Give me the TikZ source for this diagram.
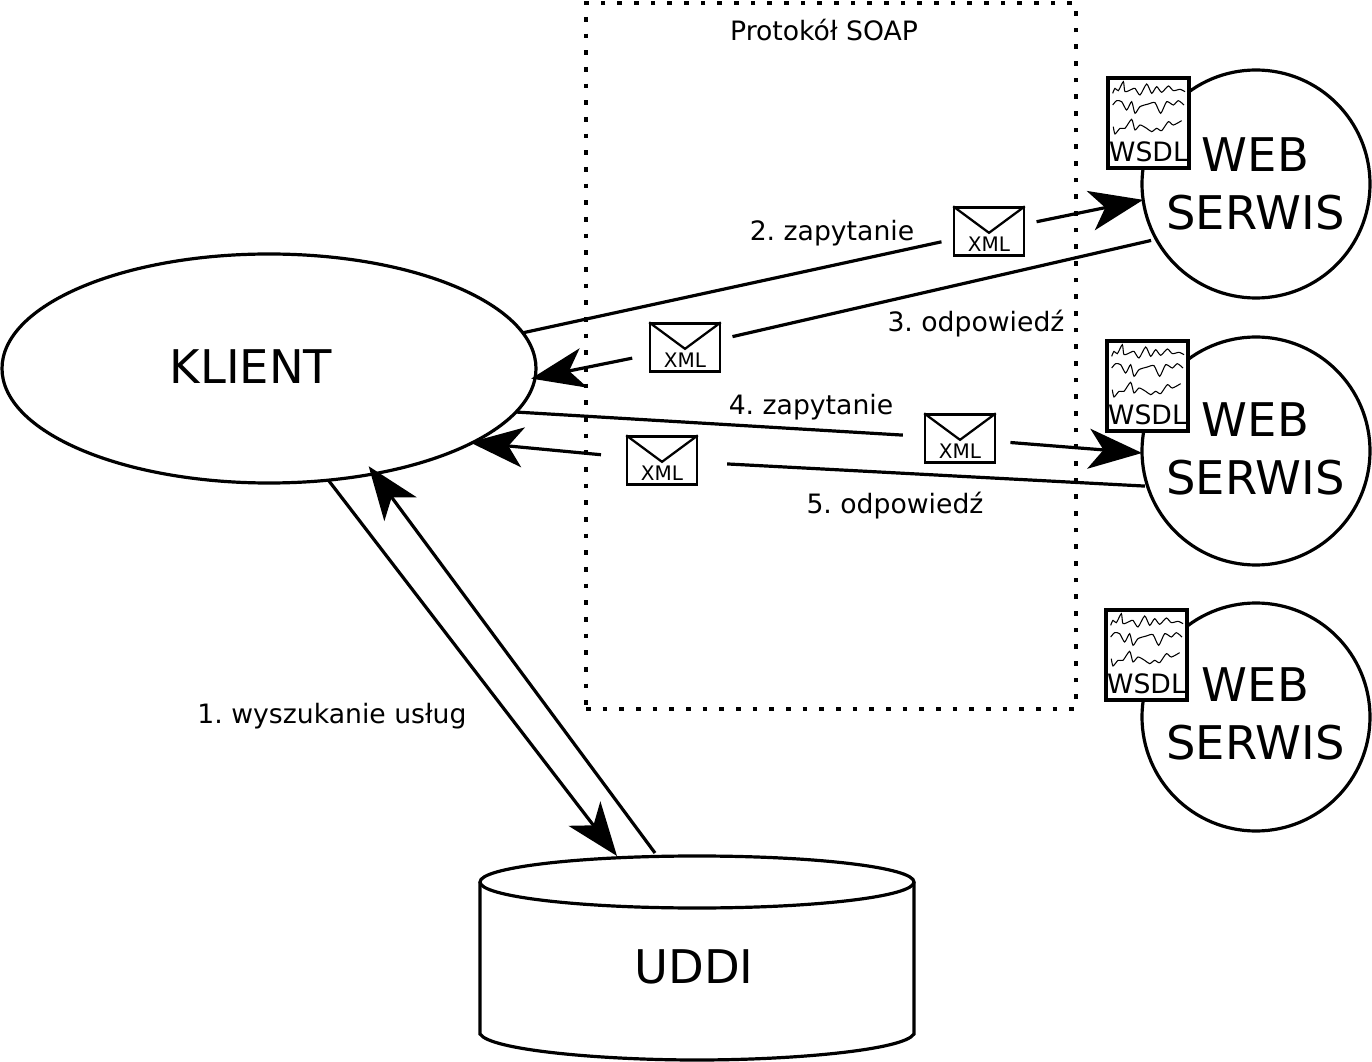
\documentclass[tikz,border=0pt]{standalone}
\usepackage{fontspec}
\setmainfont{DejaVu Sans}
\usetikzlibrary{arrows.meta,shapes.geometric}
\frenchspacing
\begin{document}
\begin{tikzpicture}[x=.75pt,y=-.75pt,line width=2.4pt,
	big text/.style = {inner sep=0pt,font=\fontsize{34.8}{43.5}\selectfont,align=center},
	web node/.style = {draw,circle,fill=white,inner sep=0pt,outer sep=0pt,minimum size=171pt},
	doc node/.style = {draw,fill=white,line width=3pt,inner sep=0pt,minimum width=61pt,minimum height=67pt},
	mail node/.style = {draw,line width=1.7pt,inner sep=0pt,minimum width=52pt,minimum height=36pt},
	note/.style = {inner sep=0pt,font=\fontsize{20}{24}\selectfont},
	link/.style = {-{Stealth[length=40pt,width=30pt,inset=11pt]}}]
	\useasboundingbox (0,0) rectangle (1372,1062);

	% protokol
	\node[draw,line width=3pt,dash pattern=on 3.4pt off 9.1pt,inner sep=0pt,minimum width=367.5pt,minimum height=529.5pt] (soap) at (831,356) {};
	\node[note] (soaplabel) at (824,30) {Protokół SOAP};

	\node[draw,ellipse,inner sep=0pt,outer sep=0pt,minimum width=400.5pt,minimum height=171.75pt] (klient) at (269,368.5) {};
	\node[big text] (klientlabel) at (251,367) {KLIENT};

	\foreach \n/\y/\ty in {1/184/184,2/451/449,3/717/714}{
		\node[web node] (web\n) at (1256,\y) {};
		\node[big text] (weblabel\n) at (1255.5,\ty) {WEB\\SERWIS};
	}

	% dokumenty WSDL
	\foreach \n/\dx/\dy in {1/0/0,2/-1/263,3/-2/532}{
		\node[doc node] (doc\n) at (1148.5+\dx,123+\dy) {};
		\node[font=\fontsize{20}{24}\selectfont,inner sep=0pt,anchor=south] (wsdl\n) at ([yshift=5pt]doc\n.south) {WSDL};
		\begin{scope}[shift={(1090+\dx,60+\dy)},x=.25pt,y=-.25pt,line width=.8pt]
			\draw plot[smooth,tension=.4] coordinates {(68,100) (75,85) (85,92) (100,65) (105,95) (125,88) (135,85) (150,105) (170,72) (185,100) (200,80) (215,97) (235,78) (250,92) (270,88) (285,95)};
			\draw plot[smooth,tension=.4] coordinates {(68,135) (80,122) (95,125) (110,150) (125,125) (135,160) (150,140) (175,132) (195,128) (212,160) (230,125) (250,135) (265,122) (282,135)};
			\draw plot[smooth,tension=.4] coordinates {(70,200) (75,222) (90,205) (105,205) (125,178) (135,210) (150,195) (170,205) (185,215) (200,205) (215,212) (235,185) (250,195) (275,182)};
		\end{scope}
	}

	% koperty XML
	\foreach \n/\x/\y in {2/989/231.5,3/685/347.5,4/960/438.5,5/662/460.5}{
		\node[mail node] (mail\n) at (\x,\y) {};
		\node[inner sep=0pt,font=\fontsize{15}{18}\selectfont,anchor=south] (xml\n) at ([yshift=3pt]mail\n.south) {XML};
		\draw[line width=1.7pt] (mail\n.north west) -- ([yshift=-1pt]mail\n.center) -- (mail\n.north east);
	}

	% UDDI
	\draw[fill=white] (480,882) -- (480,1034) .. controls (490,1050) and (600,1060) .. (697,1060) .. controls (794,1060) and (904,1050) .. (914,1034) -- (914,882);
	\node[draw,ellipse,inner sep=0pt,outer sep=0pt,minimum width=325.5pt,minimum height=39pt] (uddicap) at (697,882) {};
	\node[big text] (uddi) at (694,967) {UDDI};
	\coordinate (uddiin) at (617,856);
	\coordinate (uddiout) at (655,853);

	% komunikaty
	\draw[shorten >=9pt] (klient.8) -- (mail2);
	\draw[link,shorten <=9pt] (mail2) -- (web1.188.6);
	\draw[shorten <=4pt,shorten >=9pt] (web1.209.6) -- (mail3);
	\draw[link,shorten <=13pt,shorten >=-3pt] (mail3) -- (klient.-2.2);
	\draw[shorten >=16pt] (klient.-10) -- (mail4);
	\draw[link,shorten <=11pt] (mail4) -- (web2.181);
	\draw[shorten <=2pt,shorten >=22pt] (web2.198.9) -- (mail5);
	\draw[link,shorten <=19pt,shorten >=-2pt] (mail5) -- (klient.-20.5);
	\draw[link] (klient.-62.4) -- (uddiin);
	\draw[link,shorten >=-7pt] (uddiout) -- (klient.-45.9);

	\node[note] (step1) at (332,716) {1. wyszukanie usług};
	\node[note] (step2) at (832,233) {2. zapytanie};
	\node[note] (step3) at (976,324) {3. odpowiedź};
	\node[note] (step4) at (811,407) {4. zapytanie};
	\node[note] (step5) at (895,506) {5. odpowiedź};
\end{tikzpicture}
\end{document}
